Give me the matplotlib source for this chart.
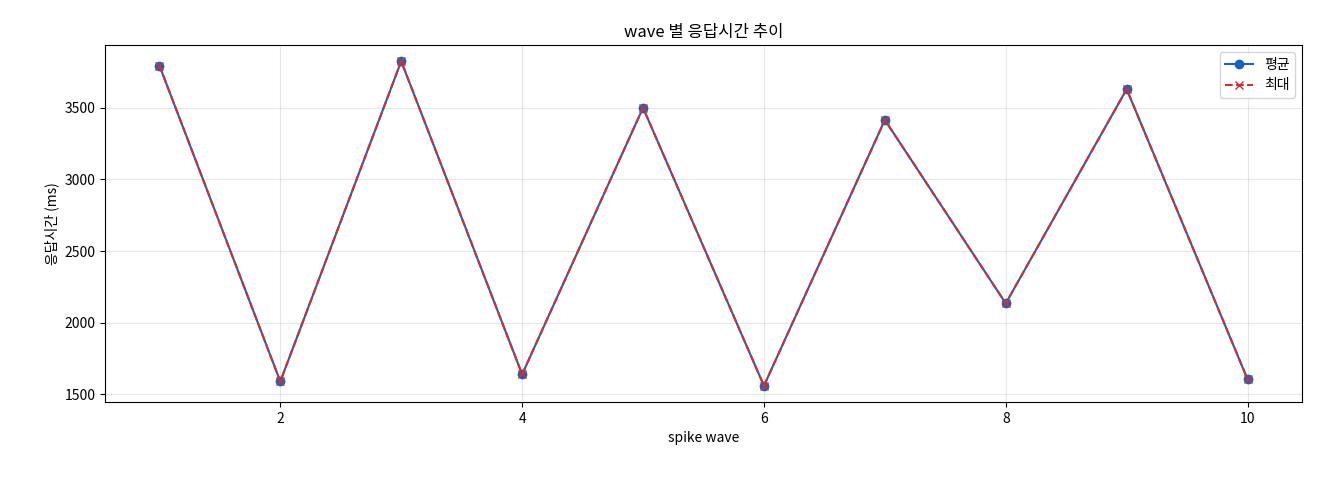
import matplotlib
matplotlib.use("Agg")
import matplotlib.pyplot as plt

plt.rcParams['font.family'] = ['Noto Sans CJK KR', 'DejaVu Sans']
plt.rcParams['axes.unicode_minus'] = False

waves = [1, 2, 3, 4, 5, 6, 7, 8, 9, 10]
avg_ms = [3795, 1590, 3825, 1640, 3500, 1560, 3415, 2135, 3630, 1605]
max_ms = [3795, 1590, 3825, 1640, 3500, 1560, 3415, 2135, 3630, 1605]

fig = plt.figure(figsize=(13.2, 4.8), dpi=100)
ax = fig.add_axes([105/1320, 78/480, 1197/1320, 357/480])
ax.plot(waves, avg_ms, marker='o', color='#1565c0', label='평균', markersize=6)
ax.plot(waves, max_ms, marker='x', linestyle='--', color='#d32f2f', label='최대', markersize=6)
ax.set_title('wave 별 응답시간 추이', fontsize=12)
ax.set_xlabel('spike wave', fontsize=10)
ax.set_ylabel('응답시간 (ms)', fontsize=10)
ax.grid(True, alpha=0.3)
ax.legend(loc='upper right')
fig.savefig('out.png', dpi=100)
